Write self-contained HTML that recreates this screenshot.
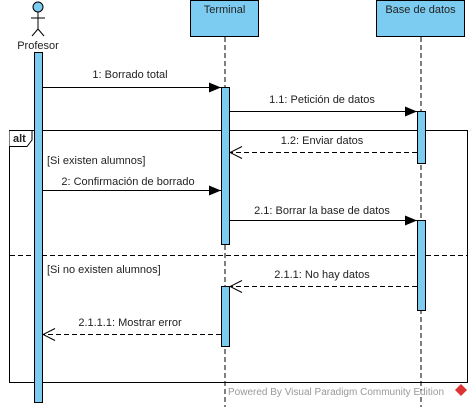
<!DOCTYPE html>
<html><head><meta charset="utf-8"><style>
body{margin:0;background:#fff;width:471px;height:407px;overflow:hidden}
text{font-family:"Liberation Sans",sans-serif;font-size:11px;fill:#222}
</style></head><body>
<svg width="471" height="407" xmlns="http://www.w3.org/2000/svg">
<defs>
<marker id="f" markerWidth="12" markerHeight="10" refX="12" refY="5" orient="auto" markerUnits="userSpaceOnUse"><path d="M0,0 L12,5 L0,10 z" fill="#000"/></marker>
<marker id="o" markerWidth="14" markerHeight="14" refX="13" refY="7" orient="auto" markerUnits="userSpaceOnUse"><path d="M1,1 L13,7 L1,13" fill="none" stroke="#000"/></marker>
</defs>
<line x1="225" y1="37" x2="225" y2="407" stroke="#000" stroke-dasharray="5,3"/>
<line x1="421" y1="37" x2="421" y2="407" stroke="#000" stroke-dasharray="5,3"/>
<rect x="190.5" y="0.5" width="68" height="36" fill="#7ccbf0" stroke="#000"/>
<text x="224.5" y="13" text-anchor="middle">Terminal</text>
<rect x="376.5" y="0.5" width="88" height="36" fill="#7ccbf0" stroke="#000"/>
<text x="420.5" y="13" text-anchor="middle">Base de datos</text>
<circle cx="38" cy="7" r="5" fill="#7ccbf0" stroke="#000"/>
<line x1="38" y1="12" x2="38" y2="29" stroke="#000"/>
<line x1="31" y1="18" x2="45" y2="18" stroke="#000"/>
<line x1="38" y1="29" x2="32" y2="36" stroke="#000"/>
<line x1="38" y1="29" x2="44" y2="36" stroke="#000"/>
<text x="38" y="49" text-anchor="middle">Profesor</text>
<rect x="9.5" y="130.5" width="458" height="252" fill="none" stroke="#000"/>
<path d="M9.5,130.5 H32 V140 L27,146.5 H9.5" fill="#fff" stroke="#000"/>
<text x="13" y="142" font-weight="bold">alt</text>
<line x1="10" y1="255.5" x2="467" y2="255.5" stroke="#000" stroke-dasharray="5,3"/>
<rect x="34.5" y="52.5" width="8" height="350" fill="#7ccbf0" stroke="#000"/>
<rect x="221.5" y="87.5" width="8" height="157" fill="#7ccbf0" stroke="#000"/>
<rect x="221.5" y="286.5" width="8" height="60" fill="#7ccbf0" stroke="#000"/>
<rect x="417.5" y="111.5" width="8" height="52" fill="#7ccbf0" stroke="#000"/>
<rect x="417.5" y="220.5" width="8" height="90" fill="#7ccbf0" stroke="#000"/>
<line x1="43" y1="87.5" x2="221" y2="87.5" stroke="#000" marker-end="url(#f)"/>
<text x="130" y="78" text-anchor="middle">1: Borrado total</text>
<line x1="230" y1="111.5" x2="417" y2="111.5" stroke="#000" marker-end="url(#f)"/>
<text x="322" y="103" text-anchor="middle">1.1: Petición de datos</text>
<line x1="417" y1="152.5" x2="230" y2="152.5" stroke="#000" stroke-dasharray="5,3" marker-end="url(#o)"/>
<text x="322" y="144" text-anchor="middle">1.2: Enviar datos</text>
<text x="47" y="164">[Si existen alumnos]</text>
<line x1="43" y1="190.5" x2="221" y2="190.5" stroke="#000" marker-end="url(#f)"/>
<text x="128" y="185" text-anchor="middle">2: Confirmación de borrado</text>
<line x1="230" y1="220.5" x2="417" y2="220.5" stroke="#000" marker-end="url(#f)"/>
<text x="322" y="214" text-anchor="middle">2.1: Borrar la base de datos</text>
<text x="47" y="273">[Si no existen alumnos]</text>
<line x1="417" y1="286.5" x2="230" y2="286.5" stroke="#000" stroke-dasharray="5,3" marker-end="url(#o)"/>
<text x="322" y="278" text-anchor="middle">2.1.1: No hay datos</text>
<line x1="221" y1="334.5" x2="43" y2="334.5" stroke="#000" stroke-dasharray="5,3" marker-end="url(#o)"/>
<text x="130" y="326" text-anchor="middle">2.1.1.1: Mostrar error</text>
<text x="228" y="395" style="font-size:10px;fill:#999">Powered By  Visual Paradigm Community Edition</text>
<path d="M461,384 L467,390 L461,396 L455,390 z" fill="#d33"/>
</svg>
</body></html>
